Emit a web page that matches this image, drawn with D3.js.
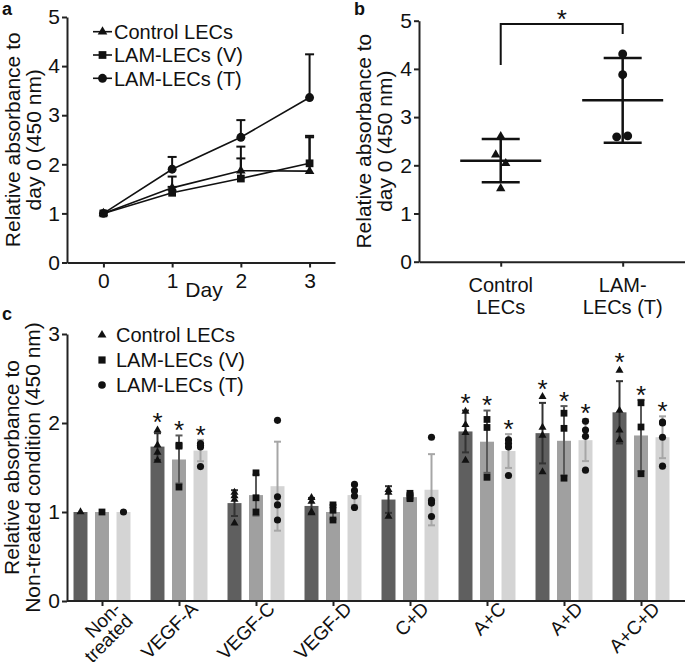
<!DOCTYPE html>
<html><head><meta charset="utf-8">
<script src="https://cdn.jsdelivr.net/npm/d3@7"></script>
<style>
body{margin:0;background:#fff}
svg text{font-family:"Liberation Sans",Arial,Helvetica,sans-serif;fill:#111}
</style>
</head><body>
<svg id="chart" width="685" height="667"></svg>
<script>
// ---------- Panel a data ----------
const days = [0, 1, 2, 3];
const seriesNames = ["Control LECs", "LAM-LECs (V)", "LAM-LECs (T)"];
const growthControl = [1.00, 1.52, 1.87, 1.86];
const growthV       = [1.00, 1.42, 1.71, 2.02];
const growthT       = [1.00, 1.90, 2.55, 3.36];
const growthErrControl = [0, 0.23, 0.49, 0.69];
const growthErrV       = [0, 0.12, 0.41, 0.56];
const growthErrT       = [0, 0.25, 0.35, 0.88];
const yTicksA = [0, 1, 2, 3, 4, 5];

// ---------- Panel b data ----------
const scatterGroups = ["Control LECs", "LAM-LECs (T)"];
const scatterLabels = [["Control", "LECs"], ["LAM-", "LECs (T)"]];
const scatterControl = [2.60, 2.22, 2.04, 1.52];
const scatterT       = [4.31, 3.88, 2.59, 2.61];
const yTicksB = [0, 1, 2, 3, 4, 5];

// ---------- Panel c data ----------
const conditions = ["Non-treated", "VEGF-A", "VEGF-C", "VEGF-D", "C+D", "A+C", "A+D", "A+C+D"];
const conditionLabels = [["Non-", "treated"], ["VEGF-A"], ["VEGF-C"], ["VEGF-D"], ["C+D"], ["A+C"], ["A+D"], ["A+C+D"]];
const barControl = [1.00, 1.735, 1.10, 1.068, 1.14, 1.905, 1.886, 2.12];
const barV       = [1.00, 1.59, 1.19, 1.00, 1.167, 1.79, 1.80, 1.86];
const barT       = [1.00, 1.69, 1.29, 1.19, 1.25, 1.685, 1.807, 1.84];
const sdControl  = [0, 0.15, 0.145, 0.09, 0.15, 0.235, 0.34, 0.35];
const sdV        = [0, 0.27, 0.23, 0.08, 0.03, 0.35, 0.39, 0.40];
const sdT        = [0, 0.12, 0.50, 0.11, 0.40, 0.19, 0.235, 0.235];
const ptsControl = [[1.0], [1.92, 1.75, 1.67, 1.58], [1.22, 1.18, 1.14, 0.875], [1.16, 1.12, 1.0, 0.99],
                    [1.25, 1.22, 0.95], [2.13, 1.98, 1.89, 1.58], [2.295, 1.95, 1.86, 1.45], [2.59, 2.14, 1.92, 1.81]];
const ptsV       = [[1.0], [1.75, 1.74, 1.28], [1.44, 1.16, 1.0], [1.08, 1.02, 0.91],
                    [1.21, 1.185, 1.15], [2.04, 1.95, 1.39], [2.11, 1.94, 1.38], [2.227, 1.955, 1.43]];
const ptsT       = [[1.0], [1.77, 1.75, 1.73, 1.51], [2.03, 1.17, 1.08, 0.91], [1.31, 1.24, 1.18, 1.05],
                    [1.84, 1.13, 1.10, 0.95], [1.81, 1.77, 1.73, 1.41], [2.02, 1.92, 1.85, 1.47], [2.01, 2.0, 1.84, 1.515]];
const significant = [false, true, false, false, false, true, true, true];
const yTicksC = [0, 1, 2, 3];

// ---------- styling ----------
const FONT = 20, TFONT = 21, STAR = 26, XLFONT = 19;
const AX = "#222";
const symTypes = [d3.symbolTriangle, d3.symbolSquare, d3.symbolCircle];
const barFill = ["#5f5f5f", "#a0a0a0", "#d4d4d4"];
const errCol = ["#333333", "#5a5a5a", "#a6a6a6"];

const svg = d3.select("#chart");

function styleAxis(g) {
  g.selectAll("path.domain").attr("stroke", AX).attr("stroke-width", 2);
  g.selectAll(".tick line").attr("stroke", AX).attr("stroke-width", 2);
  g.selectAll(".tick text").attr("font-size", TFONT).attr("fill", "#111")
    .attr("font-family", '"Liberation Sans",Arial,sans-serif');
}

// panel letters
[["a", 2, 15], ["b", 354, 15], ["c", 2, 320]].forEach(([t, x, y]) =>
  svg.append("text").attr("x", x).attr("y", y).attr("font-size", 18).attr("font-weight", "bold").text(t));

// ================= Panel a =================
{
  const x = d3.scaleLinear().domain([-0.53, 3.37]).range([67, 335]);
  const y = d3.scaleLinear().domain([0, 5]).range([262.5, 17]);
  const g = svg.append("g");

  g.append("g").attr("transform", `translate(0,${y(0)})`)
    .call(d3.axisBottom(x).tickValues(days).tickSize(5).tickSizeOuter(0).tickPadding(6).tickFormat(d3.format("d")))
    .call(styleAxis);
  g.append("g").attr("transform", `translate(${x.range()[0]},0)`)
    .call(d3.axisLeft(y).tickValues(yTicksA).tickSize(5).tickSizeOuter(0).tickPadding(2).tickFormat(d3.format("d")))
    .call(styleAxis);

  g.append("text").attr("x", 204).attr("y", 297).attr("text-anchor", "middle").attr("font-size", TFONT).text("Day");
  const yt = g.append("text").attr("transform", `translate(0,${(y(0) + y(5)) / 2}) rotate(-90)`)
    .attr("text-anchor", "middle").attr("font-size", TFONT);
  yt.append("tspan").attr("x", 0).attr("y", 20).text("Relative absorbance to");
  yt.append("tspan").attr("x", 0).attr("y", 41).text("day 0 (450 nm)");

  const series = [
    { vals: growthControl, err: growthErrControl },
    { vals: growthV, err: growthErrV },
    { vals: growthT, err: growthErrT }
  ];
  const line = d3.line().x((d, i) => x(days[i])).y(d => y(d));
  const sizes = [40, 60, 62];
  series.forEach(s => {
    days.forEach((d, i) => {
      if (s.err[i] <= 0) return;
      const top = y(s.vals[i] + s.err[i]);
      g.append("line").attr("x1", x(d)).attr("x2", x(d)).attr("y1", y(s.vals[i])).attr("y2", top)
        .attr("stroke", "#111").attr("stroke-width", 2);
      g.append("line").attr("x1", x(d) - 4.5).attr("x2", x(d) + 4.5).attr("y1", top).attr("y2", top)
        .attr("stroke", "#111").attr("stroke-width", 2);
    });
  });
  series.forEach((s, k) => {
    g.append("path").attr("d", line(s.vals)).attr("fill", "none").attr("stroke", "#111").attr("stroke-width", 1.6);
    g.selectAll(null).data(s.vals).enter().append("path")
      .attr("transform", (v, i) => `translate(${x(days[i])},${y(v)})`)
      .attr("d", d3.symbol().type(symTypes[k]).size(sizes[k])).attr("fill", "#111");
  });
  const legY = [31.7, 55, 78.3];
  seriesNames.forEach((n, k) => {
    g.append("line").attr("x1", 93).attr("x2", 112).attr("y1", legY[k]).attr("y2", legY[k])
      .attr("stroke", "#111").attr("stroke-width", 1.6);
    g.append("path").attr("transform", `translate(102.5,${legY[k]})`)
      .attr("d", d3.symbol().type(symTypes[k]).size(sizes[k])).attr("fill", "#111");
    g.append("text").attr("x", 114).attr("y", legY[k]).attr("dy", "0.36em").attr("font-size", FONT).text(n);
  });
}

// ================= Panel b =================
{
  const x = d3.scalePoint().domain(scatterGroups).range([419, 704.4]).padding(0.67);
  const y = d3.scaleLinear().domain([0, 5]).range([261.7, 20.7]);
  const g = svg.append("g");
  g.append("g").attr("transform", `translate(0,${y(0)})`)
    .call(d3.axisBottom(x).tickSize(5).tickSizeOuter(0).tickFormat(""))
    .call(styleAxis);
  g.append("g").attr("transform", `translate(419,0)`)
    .call(d3.axisLeft(y).tickValues(yTicksB).tickSize(5).tickSizeOuter(0).tickPadding(2).tickFormat(d3.format("d")))
    .call(styleAxis);
  scatterGroups.forEach((grp, i) => {
    const t = g.append("text").attr("text-anchor", "middle").attr("font-size", FONT);
    scatterLabels[i].forEach((ln, j) => t.append("tspan").attr("x", x(grp)).attr("y", 292 + j * 22).text(ln));
  });
  const yt = g.append("text").attr("transform", `translate(0,${(y(0) + y(5)) / 2}) rotate(-90)`)
    .attr("text-anchor", "middle").attr("font-size", TFONT);
  yt.append("tspan").attr("x", 0).attr("y", 371).text("Relative absorbance to");
  yt.append("tspan").attr("x", 0).attr("y", 392).text("day 0 (450 nm)");

  const groups = [scatterControl, scatterT];
  const jitter = [[0, -5, 5, 0], [0, 0, -6, 5]];
  const symK = [0, 2];
  const symSize = [38, 62];
  groups.forEach((vals, i) => {
    const cx = x(scatterGroups[i]);
    const m = d3.mean(vals), sd = d3.deviation(vals);
    g.append("line").attr("x1", cx - 40.5).attr("x2", cx + 40.5).attr("y1", y(m)).attr("y2", y(m))
      .attr("stroke", "#111").attr("stroke-width", 2.5);
    [m + sd, m - sd].forEach(v => g.append("line").attr("x1", cx - 19).attr("x2", cx + 19)
      .attr("y1", y(v)).attr("y2", y(v)).attr("stroke", "#111").attr("stroke-width", 2.5));
    g.append("line").attr("x1", cx).attr("x2", cx).attr("y1", y(m - sd)).attr("y2", y(m + sd))
      .attr("stroke", "#111").attr("stroke-width", 2.5);
    vals.forEach((v, j) => g.append("path").attr("transform", `translate(${cx + jitter[i][j]},${y(v)})`)
      .attr("d", d3.symbol().type(symTypes[symK[i]]).size(symSize[i])).attr("fill", "#111"));
  });
  const x0 = x(scatterGroups[0]), x1 = x(scatterGroups[1]);
  g.append("path").attr("d", `M${x0},65V24H${x1}V34`).attr("fill", "none").attr("stroke", "#111").attr("stroke-width", 2);
  g.append("text").attr("x", (x0 + x1) / 2).attr("y", 13 + 0.575 * STAR).attr("text-anchor", "middle")
    .attr("font-size", STAR).text("*");
}

// ================= Panel c =================
{
  const x = d3.scalePoint().domain(conditions).range([67, 676]).padding(0.4545);
  const inner = d3.scaleBand().domain([0, 1, 2]).range([-32.25, 32.25]).paddingInner(0.35).paddingOuter(0.175);
  const y = d3.scaleLinear().domain([0, 3]).range([601, 334]);
  const g = svg.append("g");

  const means = [barControl, barV, barT];
  const sds = [sdControl, sdV, sdT];
  const pts = [ptsControl, ptsV, ptsT];
  const symSize = [28, 46, 40];

  conditions.forEach((c, i) => {
    [0, 1, 2].forEach(k => {
      g.append("rect").attr("x", x(c) + inner(k)).attr("width", inner.bandwidth())
        .attr("y", y(means[k][i])).attr("height", y(0) - y(means[k][i])).attr("fill", barFill[k]);
    });
  });
  conditions.forEach((c, i) => {
    [0, 1, 2].forEach(k => {
      const s = sds[k][i]; if (s <= 0) return;
      const cx = x(c) + inner(k) + inner.bandwidth() / 2;
      const t = y(means[k][i] + s), b = y(means[k][i] - s);
      g.append("line").attr("x1", cx).attr("x2", cx).attr("y1", t).attr("y2", b).attr("stroke", errCol[k]).attr("stroke-width", 2);
      [t, b].forEach(yy => g.append("line").attr("x1", cx - 3.5).attr("x2", cx + 3.5).attr("y1", yy).attr("y2", yy)
        .attr("stroke", errCol[k]).attr("stroke-width", 2));
    });
  });
  conditions.forEach((c, i) => {
    [0, 1, 2].forEach(k => {
      const cx = x(c) + inner(k) + inner.bandwidth() / 2;
      pts[k][i].forEach(v => g.append("path").attr("transform", `translate(${cx},${y(v)})`)
        .attr("d", d3.symbol().type(symTypes[k]).size(symSize[k])).attr("fill", "#111"));
      if (significant[i]) {
        const top = Math.min(y(means[k][i] + sds[k][i]), y(d3.max(pts[k][i])) - 3);
        const centre = top - 11;
        g.append("text").attr("x", cx).attr("y", centre + 0.575 * STAR).attr("text-anchor", "middle")
          .attr("font-size", STAR).text("*");
      }
    });
  });

  g.append("line").attr("x1", 67).attr("x2", 685).attr("y1", y(0)).attr("y2", y(0)).attr("stroke", AX).attr("stroke-width", 2);
  const xa = g.append("g").attr("transform", `translate(0,${y(0)})`)
    .call(d3.axisBottom(x).tickSize(5).tickSizeOuter(0).tickFormat(""))
    .call(styleAxis);
  xa.select("path.domain").remove();
  g.append("g").attr("transform", `translate(67,0)`)
    .call(d3.axisLeft(y).tickValues(yTicksC).tickSize(5).tickSizeOuter(0).tickPadding(2).tickFormat(d3.format("d")))
    .call(styleAxis);

  conditions.forEach((c, i) => {
    const t = g.append("text").attr("transform", `translate(${x(c) + 20},610) rotate(-45)`)
      .attr("text-anchor", "end").attr("font-size", XLFONT);
    conditionLabels[i].forEach((ln, j) => t.append("tspan").attr("x", 0).attr("y", j * 17).text(ln));
  });

  const yt = g.append("text").attr("transform", `translate(0,${(y(0) + y(3)) / 2}) rotate(-90)`)
    .attr("text-anchor", "middle").attr("font-size", TFONT);
  yt.append("tspan").attr("x", 0).attr("y", 19).text("Relative absorbance to");
  yt.append("tspan").attr("x", 0).attr("y", 40).text("Non-treated condition (450 nm)");

  const legY = [335, 360, 385];
  seriesNames.forEach((n, k) => {
    g.append("path").attr("transform", `translate(102,${legY[k]})`)
      .attr("d", d3.symbol().type(symTypes[k]).size(symSize[k] + 6)).attr("fill", "#111");
    g.append("text").attr("x", 116).attr("y", legY[k]).attr("dy", "0.36em").attr("font-size", FONT).text(n);
  });
}
</script>
</body></html>
